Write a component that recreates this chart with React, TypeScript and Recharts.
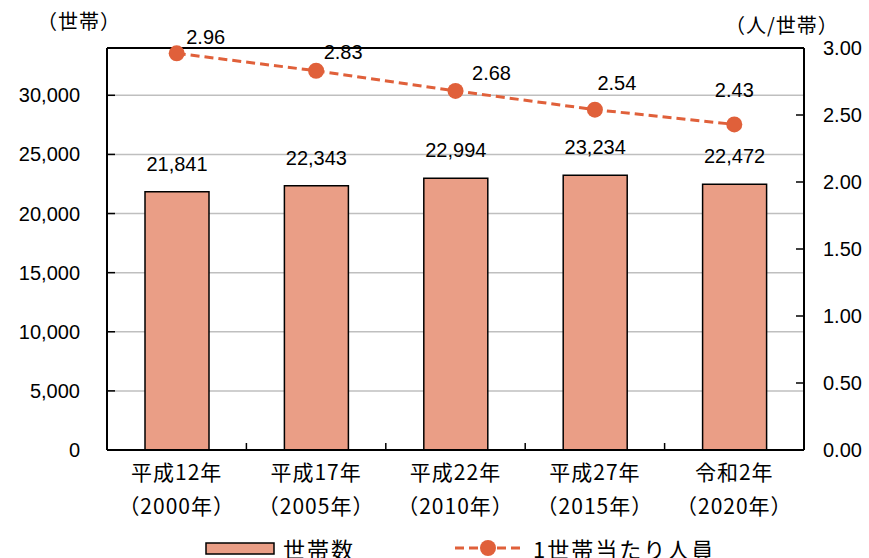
import React from "react";
import {
  ComposedChart,
  Bar,
  Line,
  XAxis,
  YAxis,
  CartesianGrid,
  LabelList,
  ReferenceLine,
} from "recharts";

const eraLabels = ["平成12年", "平成17年", "平成22年", "平成27年", "令和2年"];
const yearLabels = ["（2000年）", "（2005年）", "（2010年）", "（2015年）", "（2020年）"];
const households = [21841, 22343, 22994, 23234, 22472];
const perHousehold = [2.96, 2.83, 2.68, 2.54, 2.43];
const leftTicks = [0, 5000, 10000, 15000, 20000, 25000, 30000];
const rightTicks = [0, 0.5, 1, 1.5, 2, 2.5, 3];

// label nudges for the line values (dx, dy from dot centre)
const lineLabelOffsets = [
  [29, -16],
  [27, -19],
  [36, -18],
  [22, -27],
  [0, -34],
];

const data = eraLabels.map((era, i) => ({
  era,
  year: yearLabels[i],
  households: households[i],
  perHousehold: perHousehold[i],
}));

const BAR_COLOR = "#EA9E86";
const LINE_COLOR = "#E0603A";
const NUM_FONT = "'Liberation Sans', Arial, sans-serif";
const JP_FONT = "'Noto Sans CJK JP', sans-serif";
const BAND = 697 / 5;

const LeftTick = ({ x, y, payload }: any) => (
  <g>
    <line x1={x + 27} x2={x + 35} y1={y} y2={y} stroke="#000" strokeWidth={1.5} />
    <text x={x} y={y} textAnchor="end" dominantBaseline="central" fontFamily={NUM_FONT} fontSize={20} fill="#000">
      {payload.value.toLocaleString("en-US")}
    </text>
  </g>
);

const RightTick = ({ x, y, payload }: any) => (
  <g>
    <line x1={x - 27} x2={x - 19} y1={y} y2={y} stroke="#000" strokeWidth={1.5} />
    <text x={x} y={y} textAnchor="start" dominantBaseline="central" fontFamily={NUM_FONT} fontSize={20} fill="#000">
      {payload.value.toFixed(2)}
    </text>
  </g>
);

const XTick = ({ x, y, payload, index }: any) => (
  <g>
    {index < 4 && (
      <line x1={x + BAND / 2} x2={x + BAND / 2} y1={y} y2={y - 7} stroke="#000" strokeWidth={1.5} />
    )}
    <text x={x} y={y + 21} textAnchor="middle" dominantBaseline="central" fontFamily={JP_FONT} fontSize={21} letterSpacing={1} fill="#000">
      {payload.value}
    </text>
    <text x={x} y={y + 55} textAnchor="middle" dominantBaseline="central" fontFamily={JP_FONT} fontSize={21} letterSpacing={1} fill="#000">
      {yearLabels[index]}
    </text>
  </g>
);

const BarValue = ({ x, y, width, value }: any) => (
  <text x={x + width / 2} y={y - 28} textAnchor="middle" dominantBaseline="central" fontFamily={NUM_FONT} fontSize={20} fill="#000">
    {Number(value).toLocaleString("en-US")}
  </text>
);

const LineValue = ({ x, y, value, index }: any) => {
  const [dx, dy] = lineLabelOffsets[index] || [0, -20];
  return (
    <text x={x + dx} y={y + dy} textAnchor="middle" dominantBaseline="central" fontFamily={NUM_FONT} fontSize={20} fill="#000">
      {Number(value).toFixed(2)}
    </text>
  );
};

export default function App() {
  return (
    <div style={{ position: "absolute", left: 0, top: 0, width: 869, height: 558, background: "#fff", overflow: "hidden" }}>
      <div style={{ position: "absolute", left: 37, top: 11, fontFamily: JP_FONT, fontSize: 20, lineHeight: 1, letterSpacing: 1 }}>
        （世帯）
      </div>
      <div style={{ position: "absolute", left: 725, top: 15, fontFamily: JP_FONT, fontSize: 20, lineHeight: 1, letterSpacing: 1 }}>
        （人/世帯）
      </div>
      <ComposedChart
        width={869}
        height={558}
        data={data}
        margin={{ top: 48, right: 0, left: 0, bottom: 0 }}
      >
        <CartesianGrid yAxisId="left" vertical={false} stroke="#BFBFBF" strokeWidth={1.5} />
        <XAxis
          dataKey="era"
          height={108}
          tick={<XTick />}
          tickLine={false}
          tickSize={0}
          tickMargin={0}
          axisLine={{ stroke: "#000", strokeWidth: 2 }}
          interval={0}
        />
        <YAxis
          yAxisId="left"
          width={107}
          domain={[0, 34000]}
          ticks={leftTicks}
          tick={<LeftTick />}
          tickLine={false}
          tickSize={0}
          tickMargin={27}
          axisLine={{ stroke: "#000", strokeWidth: 2 }}
          allowDataOverflow
        />
        <YAxis
          yAxisId="right"
          orientation="right"
          width={65}
          domain={[0, 3]}
          ticks={rightTicks}
          tick={<RightTick />}
          tickLine={false}
          tickSize={0}
          tickMargin={19}
          axisLine={{ stroke: "#000", strokeWidth: 2 }}
        />
        <ReferenceLine yAxisId="left" y={34000} stroke="#000" strokeWidth={2} />
        <Bar
          yAxisId="left"
          dataKey="households"
          fill={BAR_COLOR}
          stroke="#000"
          strokeWidth={1.5}
          barSize={64}
          isAnimationActive={false}
        >
          <LabelList dataKey="households" content={<BarValue />} />
        </Bar>
        <Line
          yAxisId="right"
          dataKey="perHousehold"
          stroke={LINE_COLOR}
          strokeWidth={3}
          strokeDasharray="9 5"
          dot={{ r: 8, fill: LINE_COLOR, stroke: LINE_COLOR, strokeWidth: 0 }}
          isAnimationActive={false}
        >
          <LabelList dataKey="perHousehold" content={<LineValue />} />
        </Line>
      </ComposedChart>
      <div style={{ position: "absolute", left: 0, top: 533, width: 869, height: 30 }}>
        <svg width={869} height={30} style={{ position: "absolute", left: 0, top: 0 }}>
          <rect x={206} y={10} width={68} height={11} fill={BAR_COLOR} stroke="#000" strokeWidth={1.5} />
          <line x1={455} x2={521} y1={15} y2={15} stroke={LINE_COLOR} strokeWidth={3} strokeDasharray="9 5" />
          <circle cx={488} cy={15} r={8} fill={LINE_COLOR} />
          <text x={283} y={15} dominantBaseline="central" fontFamily={JP_FONT} fontSize={22} letterSpacing={2} fill="#000">
            世帯数
          </text>
          <text x={533} y={15} dominantBaseline="central" fontFamily={JP_FONT} fontSize={22} letterSpacing={2} fill="#000">
            1世帯当たり人員
          </text>
        </svg>
      </div>
    </div>
  );
}
